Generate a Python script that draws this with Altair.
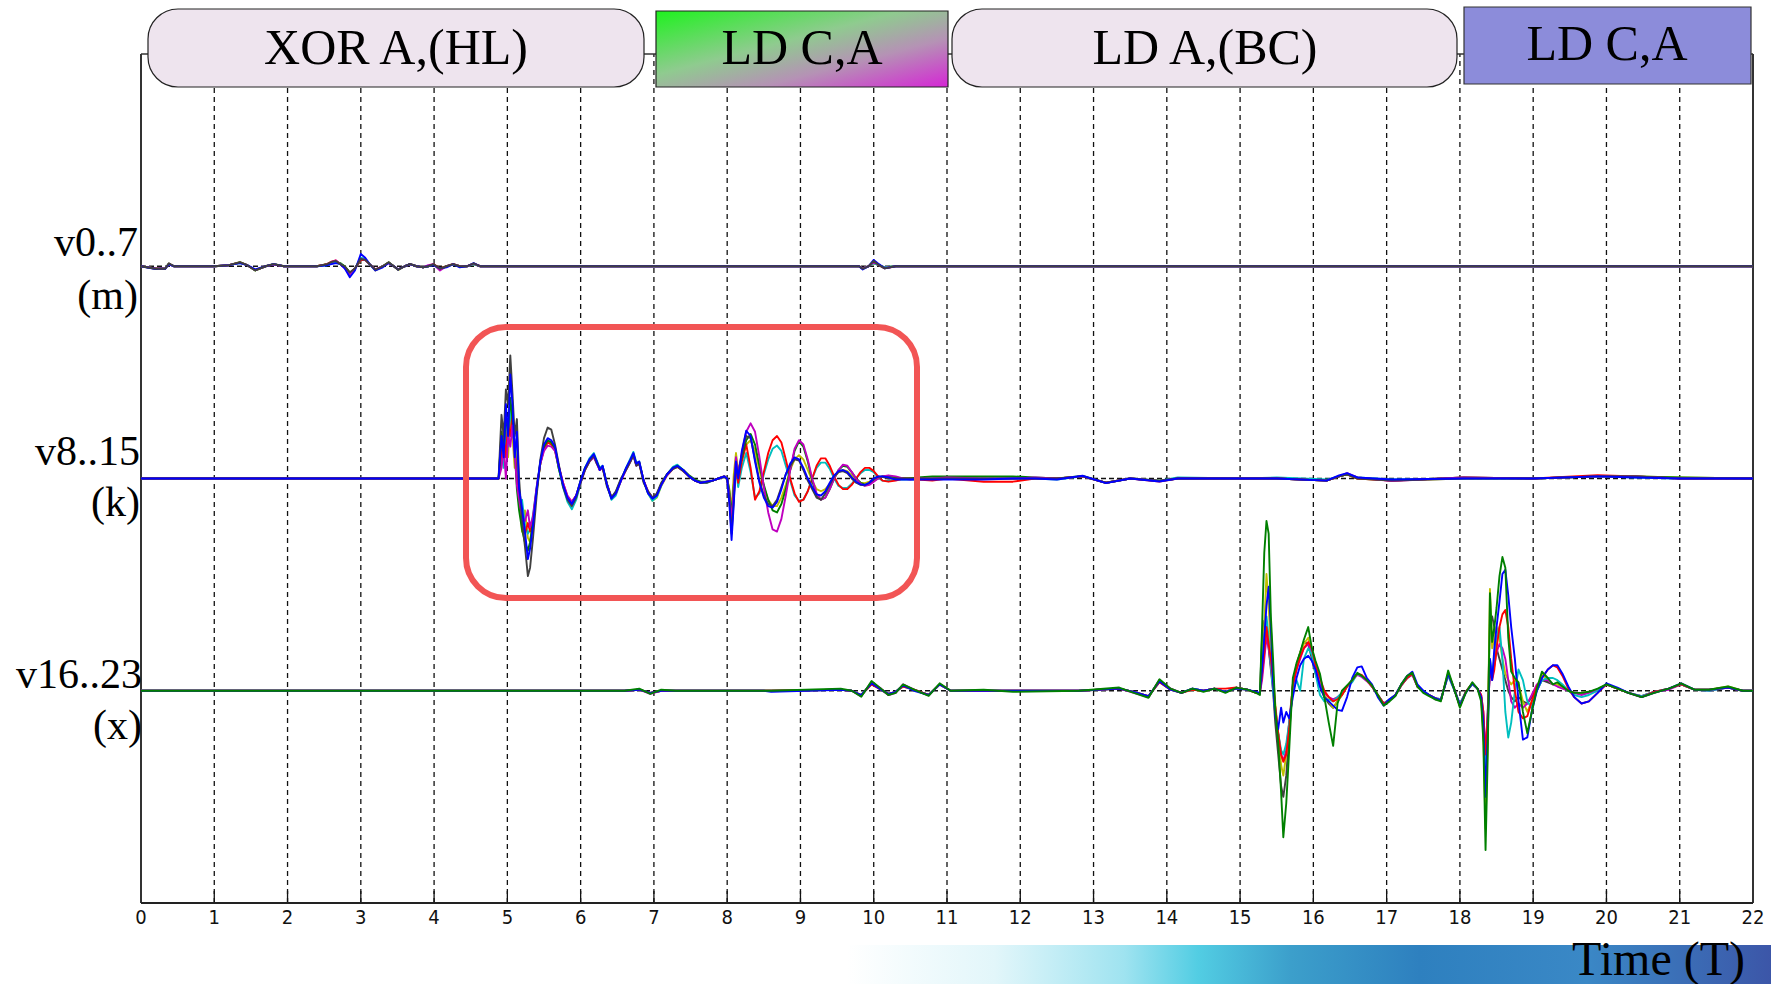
import altair as alt
import pandas as pd

# ---------------- data: k group (v8..15), baseline 10 ----------------
K_T = [0.0, 4.88, 4.92, 4.95, 4.98, 5.01, 5.04, 5.07, 5.10, 5.13,
       5.16, 5.20, 5.24, 5.28, 5.31, 5.35, 5.40, 5.45, 5.50, 5.55,
       5.60, 5.65, 5.70, 5.76, 5.82, 5.88, 5.94, 6.00, 6.06, 6.12,
       6.18, 6.22, 6.26, 6.30, 6.36, 6.42, 6.48, 6.55, 6.62, 6.68,
       6.72, 6.76, 6.80, 6.86, 6.92, 6.98, 7.04, 7.10, 7.18, 7.26,
       7.32, 7.40, 7.48, 7.56, 7.64, 7.72, 7.80, 7.88, 7.96, 8.00,
       8.03, 8.06, 8.09, 8.12, 8.15, 8.2, 8.26, 8.32, 8.38, 8.44,
       8.5, 8.56, 8.62, 8.68, 8.74, 8.8, 8.86, 8.92, 8.98, 9.04,
       9.1, 9.16, 9.22, 9.28, 9.34, 9.4, 9.46, 9.52, 9.58, 9.64,
       9.7, 9.76, 9.82, 9.88, 9.94, 10.0, 10.06, 10.12, 10.2, 10.3,
       10.4, 10.5, 10.6, 10.8, 11.0, 11.5, 11.9, 12.2, 12.5, 12.85,
       13.17, 13.5, 13.9, 14.15, 15.0, 15.5, 16.18, 16.35, 16.46, 16.6,
       17.07, 18.05, 19.0, 19.88, 20.4, 21.0, 22.0]

K_BLUE = [0, 0, 2.0, 1.0, 3.5, 2.0, 4.9, 3.5, 1.0, 2.2,
          -0.5, -1.4, -2.5, -3.8, -3.3, -2.2, -0.5, 0.8, 1.6, 1.9,
          1.8, 1.5, 0.6, -0.3, -0.9, -1.2, -0.8, -0.1, 0.5, 0.9,
          1.15, 0.8, 0.4, 0.6, -0.3, -0.95, -0.7, -0.1, 0.5, 0.9,
          1.2, 0.7, 0.8, -0.1, -0.7, -0.95, -0.8, -0.3, 0.2, 0.5,
          0.6, 0.4, 0.1, -0.1, -0.2, -0.15, -0.1, 0.0, 0.1, 0.0,
          -1.2, -2.9, -1.2, 0.8, 0.0, 1.3, 2.25, 2.0, 0.8, -0.2,
          -0.9, -1.3, -1.37, -1.1, -0.5, 0.2, 0.7, 1.0, 0.9, 0.5,
          0.0, -0.4, -0.75, -0.8, -0.6, -0.2, 0.15, 0.35, 0.4, 0.3,
          0.05, -0.15, -0.28, -0.3, -0.2, 0.0, 0.1, 0.1, 0.05, -0.05,
          -0.05, -0.05, -0.05, -0.05, -0.05, -0.05, 0.0, 0.0, -0.05, 0.13,
          -0.22, 0.0, -0.14, 0.0, 0.0, 0.0, -0.1, 0.15, 0.25, 0.05,
          -0.05, 0.0, 0.0, 0.1, 0.05, 0.0, 0.0]

K_GRAY = [0, 0, 3.0, 2.0, 4.2, 3.5, 5.8, 4.0, 2.0, 2.8,
          0.0, -2.0, -3.2, -4.6, -4.2, -2.8, -0.8, 0.9, 1.9, 2.4,
          2.3, 1.6, 0.7, -0.4, -1.0, -1.3, -0.9, -0.2, 0.4, 0.8,
          1.1, 0.7, 0.5, 0.5, -0.4, -0.9, -0.6, 0.0, 0.4, 0.8,
          1.1, 0.6, 0.7, -0.2, -0.6, -0.9, -0.7, -0.2, 0.2, 0.45,
          0.55, 0.35, 0.1, -0.1, -0.2, -0.2, -0.1, 0.0, 0.05, 0.0,
          -1.0, -2.6, -1.0, 0.6, 0.1, 1.1, 2.0, 1.9, 0.9, -0.1,
          -0.8, -1.2, -1.3, -1.0, -0.4, 0.2, 0.6, 0.9, 0.85, 0.4,
          -0.1, -0.5, -0.9, -1.0, -0.7, -0.3, 0.1, 0.3, 0.35, 0.25,
          0.0, -0.2, -0.3, -0.32, -0.2, 0.0, 0.08, 0.08, 0.0, 0.0,
          0.0, 0.0, 0.0, 0.0, 0.0, 0.0, 0.0, 0.0, 0.0, 0.1,
          -0.2, 0.0, -0.1, 0.0, 0.0, 0.0, -0.1, 0.1, 0.2, 0.0,
          -0.1, 0.0, 0.0, 0.1, 0.1, 0.0, 0.0]

K_MAGENTA = [0, 0, 0.5, 1.5, 0.0, 2.0, 1.5, 2.5, 1.2, -0.3,
             -1.0, -1.8, -2.0, -1.5, -2.3, -1.8, -0.4, 0.7, 1.3, 1.55,
             1.5, 1.3, 0.6, -0.2, -0.8, -1.1, -0.8, -0.2, 0.4, 0.8,
             1.0, 0.7, 0.4, 0.5, -0.3, -0.9, -0.7, -0.1, 0.4, 0.8,
             1.1, 0.6, 0.7, -0.1, -0.6, -0.9, -0.75, -0.3, 0.15, 0.45,
             0.55, 0.35, 0.1, -0.1, -0.2, -0.15, -0.1, 0.0, 0.1, 0.0,
             -0.8, -2.0, -0.5, 1.0, 0.2, 1.2, 2.2, 2.6, 2.2, 1.0,
             -0.4, -1.6, -2.4, -2.5, -1.9, -0.8, 0.4, 1.4, 1.8, 1.6,
             0.9, 0.0, -0.7, -1.0, -0.9, -0.5, 0.0, 0.4, 0.65, 0.6,
             0.3, 0.0, -0.25, -0.35, -0.3, -0.15, 0.0, 0.1, 0.15, 0.1,
             0.0, -0.05, 0.0, 0.0, 0.05, 0.0, 0.0, 0.05, 0.0, 0.1,
             -0.2, 0.0, -0.12, 0.0, 0.0, 0.0, -0.1, 0.1, 0.25, 0.05,
             -0.12, 0.05, 0.0, 0.1, 0.1, 0.0, 0.0]

K_GREEN = [0, 0, 2.2, 1.2, 3.0, 2.2, 3.8, 2.8, 1.4, -0.5,
           -1.5, -2.4, -3.0, -3.4, -3.0, -2.0, -0.6, 0.7, 1.5, 1.8,
           1.7, 1.4, 0.5, -0.3, -0.9, -1.15, -0.8, -0.1, 0.5, 0.85,
           1.1, 0.8, 0.45, 0.55, -0.25, -0.9, -0.65, -0.05, 0.45, 0.85,
           1.15, 0.65, 0.75, -0.1, -0.65, -0.9, -0.75, -0.25, 0.2, 0.5,
           0.6, 0.4, 0.15, -0.05, -0.15, -0.15, -0.1, 0.0, 0.1, 0.0,
           -0.6, -1.8, -0.3, 0.8, 0.3, 1.0, 1.8, 2.1, 1.6, 0.6,
           -0.3, -1.0, -1.5, -1.6, -1.2, -0.5, 0.4, 1.3, 1.75, 1.5,
           0.8, -0.1, -0.8, -1.0, -0.9, -0.5, 0.0, 0.4, 0.6, 0.55,
           0.3, 0.0, -0.2, -0.3, -0.25, -0.1, 0.0, 0.1, 0.12, 0.05,
           0.0, 0.0, 0.05, 0.1, 0.1, 0.1, 0.1, 0.05, 0.0, 0.12,
           -0.2, 0.0, -0.12, 0.0, 0.0, 0.0, -0.1, 0.1, 0.2, 0.05,
           -0.1, 0.05, 0.0, 0.1, 0.1, 0.05, 0.0]

K_RED = [0, 0, 1.2, 2.0, 1.0, 2.6, 2.0, 3.0, 1.5, 0.0,
         -1.0, -2.2, -2.6, -2.1, -2.5, -1.9, -0.5, 0.7, 1.4, 1.7,
         1.6, 1.4, 0.6, -0.2, -0.85, -1.1, -0.8, -0.15, 0.45, 0.85,
         1.1, 0.75, 0.4, 0.55, -0.3, -0.9, -0.7, -0.1, 0.45, 0.85,
         1.15, 0.65, 0.75, -0.1, -0.65, -0.9, -0.75, -0.3, 0.2, 0.5,
         0.55, 0.4, 0.1, -0.1, -0.2, -0.15, -0.1, 0.0, 0.1, 0.0,
         -1.0, -2.4, -0.8, 0.5, -0.2, 0.8, 1.6, 0.5, -1.0, -0.6,
         0.3, 1.2, 1.8, 2.0, 1.7, 0.9, 0.0, -0.7, -1.1, -1.0,
         -0.6, 0.0, 0.6, 0.95, 0.95, 0.6, 0.1, -0.3, -0.5, -0.5,
         -0.3, 0.0, 0.3, 0.5, 0.5, 0.35, 0.1, -0.1, -0.15, -0.1,
         0.0, 0.0, -0.05, -0.1, 0.0, -0.15, -0.15, 0.0, 0.0, 0.1,
         -0.2, 0.0, -0.14, 0.0, 0.0, 0.0, -0.1, 0.1, 0.2, 0.0,
         -0.1, 0.05, 0.0, 0.15, 0.1, 0.0, 0.0]

K_CYAN = [0, 0, 1.5, 0.5, 2.5, 1.5, 3.5, 2.0, 1.8, 0.2,
          -1.2, -1.0, -2.2, -2.6, -2.4, -1.7, -0.4, 0.8, 1.5, 1.75,
          1.7, 1.4, 0.5, -0.4, -1.1, -1.45, -1.0, -0.2, 0.5, 0.95,
          1.2, 0.85, 0.5, 0.6, -0.3, -1.0, -0.8, -0.1, 0.5, 0.95,
          1.25, 0.75, 0.8, -0.1, -0.7, -1.05, -0.85, -0.35, 0.2, 0.55,
          0.65, 0.4, 0.1, -0.1, -0.2, -0.2, -0.1, 0.0, 0.1, 0.0,
          -0.8, -1.6, -0.6, 0.4, -0.4, 0.5, 1.2, 0.3, -0.9, -0.7,
          0.2, 0.9, 1.4, 1.55, 1.3, 0.6, -0.1, -0.8, -1.05, -1.0,
          -0.6, 0.0, 0.5, 0.75, 0.75, 0.45, 0.0, -0.35, -0.45, -0.45,
          -0.25, 0.0, 0.25, 0.4, 0.4, 0.3, 0.05, -0.1, -0.12, -0.05,
          -0.05, -0.05, -0.05, 0.0, 0.0, 0.0, 0.0, 0.0, -0.05, 0.1,
          -0.2, 0.0, -0.1, 0.05, 0.0, 0.05, -0.05, 0.1, 0.2, 0.05,
          -0.05, 0.0, 0.0, 0.1, 0.05, 0.0, 0.0]

K_OLIVE = [0, 0, 1.0, 2.5, 1.2, 1.0, 3.0, 2.0, 0.5, 1.5,
           -0.8, -2.5, -1.5, -2.8, -3.0, -2.0, -0.5, 0.7, 1.4, 1.7,
           1.6, 1.3, 0.5, -0.3, -0.9, -1.2, -0.85, -0.15, 0.45, 0.8,
           1.05, 0.75, 0.4, 0.5, -0.3, -0.9, -0.7, -0.1, 0.45, 0.85,
           1.1, 0.65, 0.7, -0.15, -0.7, -1.05, -0.9, -0.35, 0.15, 0.45,
           0.55, 0.35, 0.1, -0.1, -0.2, -0.15, -0.1, 0.0, 0.1, 0.0,
           -0.5, -1.5, 0.2, 1.2, 0.4, 1.0, 1.6, 1.8, 1.3, 0.4,
           -0.4, -1.0, -1.3, -1.3, -0.9, -0.3, 0.4, 0.9, 1.1, 0.9,
           0.4, -0.1, -0.5, -0.6, -0.5, -0.25, 0.05, 0.3, 0.4, 0.35,
           0.15, -0.05, -0.2, -0.22, -0.15, -0.05, 0.05, 0.08, 0.05, 0.0,
           0.0, 0.0, 0.0, 0.0, 0.0, 0.0, 0.0, 0.0, 0.0, 0.1,
           -0.2, 0.0, -0.1, 0.0, 0.0, 0.0, -0.1, 0.1, 0.2, 0.0,
           -0.1, 0.0, 0.0, 0.1, 0.1, 0.05, 0.0]

# ---------------- data: x group (v16..23), baseline 0 ----------------
X_T = [0.0, 6.6, 6.8, 6.95, 7.1, 7.3, 8.5, 8.6, 9.55, 9.7,
       9.83, 9.97, 10.1, 10.2, 10.3, 10.4, 10.55, 10.75, 10.9, 11.05,
       11.5, 11.9, 12.8, 13.35, 13.55, 13.75, 13.9, 14.05, 14.2, 14.35,
       14.5, 14.65, 14.8, 14.95, 15.1, 15.22, 15.27, 15.30, 15.33, 15.36,
       15.39, 15.42, 15.45, 15.48, 15.52, 15.56, 15.59, 15.63, 15.67, 15.72,
       15.77, 15.82, 15.87, 15.93, 15.98, 16.03, 16.09, 16.15, 16.21, 16.27,
       16.33, 16.39, 16.46, 16.53, 16.6, 16.66, 16.73, 16.8, 16.88, 16.96,
       17.04, 17.12, 17.2, 17.28, 17.35, 17.42, 17.5, 17.58, 17.66, 17.74,
       17.84, 17.92, 18.0, 18.08, 18.17, 18.24, 18.29, 18.32, 18.35, 18.38,
       18.41, 18.44, 18.47, 18.5, 18.54, 18.58, 18.62, 18.66, 18.7, 18.75,
       18.8, 18.86, 18.92, 18.98, 19.05, 19.12, 19.2, 19.27, 19.33, 19.4,
       19.48, 19.56, 19.66, 19.76, 19.88, 20.0, 20.15, 20.3, 20.48, 20.65,
       20.85, 21.02, 21.2, 21.4, 21.66, 21.86, 22.0]

X_GREEN = [0, 0, 0.1, -0.15, 0.05, 0, 0, 0, 0.1, 0.0,
           -0.28, 0.46, 0.1, -0.2, -0.1, 0.3, 0.05, -0.24, 0.35, 0.0,
           0.05, -0.05, 0.0, 0.15, -0.1, -0.33, 0.54, 0.1, -0.1, 0.1,
           -0.05, 0.1, -0.1, 0.15, 0.05, -0.1, -0.2, 3.0, 6.5, 8.0,
           7.4, 3.5, 1.5, -0.9, -2.4, -4.8, -6.9, -5.3, -2.8, 0.6,
           1.3, 1.8, 2.4, 3.0, 2.0, 1.4, 0.8, -0.3, -1.5, -2.6,
           -0.6, 0.0, 0.25, 0.5, 0.85, 0.7, 0.5, 0.25, -0.2, -0.7,
           -0.5, -0.25, 0.3, 0.7, 0.85, 0.2, -0.1, -0.25, -0.4, -0.5,
           0.95, 0.1, -0.8, -0.1, 0.4, 0.1, -0.5, -2.4, -7.5, -3.0,
           4.6, 2.3, 3.0, 3.9, 5.4, 6.3, 5.8, 2.5, 0.9, 0.6,
           0.4, -1.0, -2.0, -1.0, 0.1, 0.9, 0.6, 0.3, 0.4, 0.2,
           0.0, -0.1, -0.1, -0.05, 0.1, 0.3, 0.1, -0.1, -0.3, -0.1,
           0.1, 0.35, 0.05, 0.05, 0.2, 0.0, 0.0]

X_BLUE = [0, 0, 0.05, -0.1, 0.0, 0, 0, -0.05, 0.05, 0.0,
          -0.2, 0.35, 0.05, -0.15, -0.05, 0.25, 0.0, -0.2, 0.3, 0.0,
          0.0, 0.0, 0.0, 0.1, -0.05, -0.25, 0.45, 0.05, -0.1, 0.1,
          0.0, 0.1, -0.05, 0.1, 0.05, -0.05, -0.1, 1.0, 2.5, 4.0,
          4.9, 3.0, 0.5, -1.2, -1.8, -0.8, -1.5, -1.0, -1.3, -0.3,
          0.6, 1.2, 1.5, 1.65, 1.4, 1.0, 0.2, -0.3, -0.5, -0.7,
          -0.9, -0.95, -0.3, 0.6, 1.1, 1.15, 0.6, 0.3, -0.3, -0.7,
          -0.4, -0.2, 0.3, 0.7, 0.9, 0.3, 0.0, -0.2, -0.35, -0.45,
          0.8, 0.1, -0.7, -0.1, 0.35, 0.1, -0.3, -1.5, -5.0, -2.0,
          1.5, 0.5, 2.0, 3.0, 4.2, 5.5, 5.7, 4.5, 3.0, 1.5,
          -0.5, -2.3, -2.2, -1.0, 0.0, 0.6, 1.0, 1.2, 1.2, 0.8,
          0.2, -0.3, -0.6, -0.5, -0.1, 0.35, 0.15, -0.1, -0.3, -0.1,
          0.1, 0.35, 0.05, 0.05, 0.15, 0.0, 0.0]

X_RED = [0, 0, 0.05, -0.1, 0.0, 0, 0, 0, 0.05, 0.0,
         -0.2, 0.3, 0.05, -0.15, -0.05, 0.2, 0.05, -0.2, 0.3, 0.0,
         0.0, 0.0, 0.0, 0.1, -0.05, -0.25, 0.4, 0.05, -0.1, 0.05,
         0.0, 0.1, 0.1, 0.15, 0.05, -0.1, -0.1, 0.8, 1.8, 3.0,
         2.2, 1.5, 0.5, -0.8, -2.0, -3.0, -3.35, -3.0, -1.8, 0.3,
         1.0, 1.6, 2.0, 2.3, 2.0, 1.2, 0.6, 0.0, -0.3, -0.5,
         -0.4, -0.2, 0.2, 0.5, 0.8, 0.75, 0.5, 0.2, -0.2, -0.6,
         -0.45, -0.2, 0.25, 0.6, 0.8, 0.2, -0.05, -0.2, -0.35, -0.45,
         0.8, 0.1, -0.7, -0.05, 0.35, 0.1, -0.2, -1.0, -3.0, -1.2,
         1.0, 0.5, 1.0, 2.0, 3.0, 3.6, 3.8, 3.0, 1.5, 0.0,
         -1.0, -1.3, -1.2, -0.5, 0.2, 0.6, 1.0, 1.2, 1.1, 0.7,
         0.1, -0.3, -0.6, -0.5, -0.1, 0.3, 0.1, -0.1, -0.3, -0.05,
         0.1, 0.3, 0.05, 0.05, 0.15, 0.0, 0.0]

X_CYAN = [0, 0, 0.05, -0.1, 0.0, 0, 0, 0, 0.05, 0.0,
          -0.2, 0.3, 0.05, -0.15, -0.05, 0.2, 0.05, -0.2, 0.3, 0.0,
          0.0, 0.0, 0.0, 0.1, -0.05, -0.25, 0.4, 0.05, -0.1, 0.1,
          0.0, 0.1, -0.05, 0.15, 0.05, -0.1, -0.1, 1.0, 2.5, 3.5,
          2.5, 1.2, 0.0, -1.0, -2.0, -2.8, -3.0, -2.5, -1.5, 0.0,
          0.5, 0.0, 1.5, 2.0, 1.7, 0.8, -0.2, -0.5, -0.4, -0.5,
          -0.3, -0.1, 0.2, 0.4, 0.8, 0.7, 0.5, 0.2, -0.2, -0.6,
          -0.4, -0.2, 0.25, 0.6, 0.8, 0.2, 0.0, -0.2, -0.35, -0.4,
          0.7, 0.05, -0.6, -0.05, 0.3, 0.1, -0.3, -1.2, -3.5, -1.5,
          1.5, 0.8, 1.5, 2.5, 3.0, 1.5, -1.0, -2.2, -1.5, 0.0,
          1.0, 0.5, -0.5, -0.8, 0.0, 0.5, 0.6, 0.6, 0.5, 0.3,
          0.0, -0.2, -0.3, -0.2, 0.0, 0.3, 0.1, -0.1, -0.25, -0.05,
          0.1, 0.3, 0.05, 0.0, 0.15, 0.0, 0.0]

X_MAGENTA = [0, 0, 0.05, -0.15, 0.0, 0, 0, 0, 0.05, 0.0,
             -0.25, 0.4, 0.1, -0.2, -0.1, 0.3, 0.05, -0.22, 0.3, 0.0,
             0.0, 0.0, 0.0, 0.1, -0.1, -0.3, 0.5, 0.1, -0.1, 0.1,
             0.0, 0.1, -0.05, 0.15, 0.05, -0.1, -0.1, 0.5, 1.5, 2.5,
             2.0, 1.2, 0.3, -0.8, -2.0, -3.0, -3.3, -2.8, -1.5, 0.2,
             1.0, 1.5, 2.0, 2.2, 1.8, 1.0, 0.3, -0.1, -0.3, -0.4,
             -0.3, -0.1, 0.2, 0.5, 0.75, 0.65, 0.45, 0.2, -0.2, -0.6,
             -0.4, -0.2, 0.25, 0.6, 0.75, 0.2, -0.05, -0.2, -0.35, -0.4,
             0.75, 0.1, -0.7, -0.05, 0.3, 0.1, -0.2, -1.0, -3.0, -1.0,
             1.0, 0.6, 1.2, 1.8, 2.2, 2.0, 1.5, 0.5, -0.5, -0.8,
             -0.6, -0.8, -0.6, -0.2, 0.3, 0.5, 0.5, 0.3, 0.2, 0.1,
             0.0, -0.1, -0.2, -0.1, 0.0, 0.3, 0.1, -0.1, -0.25, -0.05,
             0.05, 0.3, 0.05, 0.0, 0.15, 0.0, 0.0]

X_OLIVE = [0, 0, 0.05, -0.1, 0.0, 0, 0, 0, 0.05, 0.0,
           -0.2, 0.35, 0.05, -0.15, -0.05, 0.25, 0.05, -0.2, 0.3, 0.0,
           0.0, 0.0, 0.0, 0.1, -0.05, -0.25, 0.45, 0.05, -0.1, 0.05,
           0.0, 0.1, -0.05, 0.1, 0.05, -0.1, -0.1, 1.5, 3.0, 5.5,
           4.0, 2.0, 0.8, -0.6, -2.0, -3.5, -4.0, -3.0, -1.5, 0.3,
           1.2, 1.8, 2.2, 2.5, 1.8, 1.0, 0.3, -0.2, -0.5, -0.8,
           -0.5, -0.2, 0.2, 0.5, 0.8, 0.7, 0.5, 0.2, -0.2, -0.65,
           -0.45, -0.2, 0.3, 0.65, 0.85, 0.2, -0.05, -0.2, -0.35, -0.45,
           0.85, 0.1, -0.75, -0.05, 0.35, 0.1, -0.4, -2.0, -6.5, -2.0,
           4.8, 2.0, 2.5, 3.0, 2.5, 1.5, 0.8, 0.5, 0.3, 0.5,
           0.3, -0.5, -1.0, -0.5, 0.0, 0.8, 0.5, 0.3, 0.3, 0.2,
           0.0, -0.1, -0.1, -0.05, 0.05, 0.3, 0.1, -0.1, -0.3, -0.1,
           0.1, 0.3, 0.05, 0.05, 0.2, 0.0, 0.0]

X_GRAY = [0, 0, 0.05, -0.1, 0.0, 0, 0, 0, 0.05, 0.0,
          -0.25, 0.4, 0.05, -0.2, -0.05, 0.25, 0.05, -0.2, 0.3, 0.0,
          0.0, 0.0, 0.0, 0.1, -0.05, -0.3, 0.5, 0.1, -0.1, 0.1,
          0.0, 0.1, -0.05, 0.15, 0.05, -0.1, -0.15, 2.5, 3.3, 3.0,
          2.0, 1.0, 0.0, -1.5, -3.0, -4.5, -5.0, -4.0, -2.0, 0.2,
          1.2, 1.8, 2.3, 2.2, 1.5, 0.8, 0.2, -0.3, -0.6, -0.8,
          -0.5, -0.2, 0.2, 0.5, 0.8, 0.7, 0.5, 0.2, -0.2, -0.6,
          -0.45, -0.2, 0.3, 0.6, 0.8, 0.2, -0.05, -0.2, -0.4, -0.45,
          0.8, 0.1, -0.7, -0.05, 0.35, 0.1, -0.3, -1.8, -4.8, -1.0,
          3.2, 3.5, 3.0, 2.0, 1.5, 1.0, 0.5, 0.0, -0.3, -0.5,
          -0.3, -0.5, -0.6, -0.3, 0.0, 0.5, 0.4, 0.3, 0.3, 0.2,
          0.0, -0.1, -0.15, -0.05, 0.05, 0.3, 0.1, -0.1, -0.25, -0.05,
          0.1, 0.3, 0.05, 0.05, 0.15, 0.0, 0.0]

# ---------------- data: m group (v0..7), baseline 20 ----------------
M_T = [0.0, 0.2, 0.27, 0.33, 0.38, 0.45, 1.0, 1.2, 1.35, 1.45,
       1.56, 1.7, 1.81, 1.95, 2.2, 2.4, 2.54, 2.6, 2.66, 2.72,
       2.78, 2.85, 2.92, 3.0, 3.06, 3.12, 3.2, 3.3, 3.38, 3.45,
       3.51, 3.6, 3.67, 3.76, 3.85, 3.92, 3.99, 4.08, 4.17, 4.26,
       4.35, 4.45, 4.54, 4.63, 4.72, 5.0, 6.0, 7.0, 8.0, 9.5,
       9.8, 9.85, 9.93, 10.0, 10.07, 10.15, 10.3, 11.0, 15.0, 22.0]

M_BLUE = [0, -0.13, -0.1, -0.13, 0.1, 0.0, 0.0, 0.05, 0.15, 0.05,
          -0.15, 0.0, 0.1, 0.0, 0.0, 0.0, 0.05, 0.1, 0.15, 0.1,
          -0.1, -0.52, -0.2, 0.58, 0.4, 0.1, -0.2, -0.05, 0.15, 0.0,
          -0.15, 0.0, 0.1, 0.0, -0.05, 0.0, 0.05, -0.1, -0.05, 0.1,
          -0.05, 0.0, 0.15, 0.0, 0.0, 0.0, 0.0, 0.0, 0.0, 0.0,
          0.0, -0.15, 0.0, 0.3, 0.1, -0.1, 0.0, 0.0, 0.0, 0.0]

M_GREEN = [0, -0.1, -0.13, -0.1, 0.12, 0.0, 0.0, 0.05, 0.18, 0.05,
           -0.2, 0.0, 0.1, 0.0, 0.0, 0.0, 0.1, 0.2, 0.2, 0.15,
           0.0, -0.3, -0.1, 0.3, 0.3, 0.1, -0.15, 0.0, 0.18, 0.0,
           -0.15, 0.0, 0.1, 0.0, -0.05, 0.0, 0.08, -0.1, 0.0, 0.1,
           0.0, 0.0, 0.1, 0.0, 0.0, 0.0, 0.0, 0.0, 0.0, 0.0,
           0.0, -0.1, 0.0, 0.15, 0.05, -0.05, 0.0, 0.0, 0.0, 0.0]

M_RED = [0, -0.12, -0.1, -0.12, 0.12, 0.0, 0.0, 0.05, 0.17, 0.05,
         -0.18, 0.0, 0.1, 0.0, 0.0, 0.0, 0.1, 0.22, 0.27, 0.1,
         -0.05, -0.3, -0.1, 0.3, 0.3, 0.1, -0.15, 0.0, 0.17, 0.0,
         -0.15, 0.0, 0.1, 0.0, -0.05, 0.0, 0.1, -0.1, 0.0, 0.1,
         0.0, 0.0, 0.12, 0.0, 0.0, 0.0, 0.0, 0.0, 0.0, 0.0,
         0.0, -0.1, 0.0, 0.2, 0.05, -0.1, 0.0, 0.0, 0.0, 0.0]

M_CYAN = [0, -0.12, -0.13, -0.1, 0.1, 0.0, 0.0, 0.05, 0.15, 0.05,
          -0.18, 0.0, 0.1, 0.0, 0.0, 0.0, 0.05, 0.15, 0.2, 0.1,
          -0.05, -0.35, -0.1, 0.4, 0.35, 0.1, -0.18, 0.0, 0.18, 0.0,
          -0.16, 0.0, 0.1, 0.0, -0.05, 0.0, 0.08, -0.15, 0.0, 0.08,
          0.0, 0.0, 0.1, 0.0, 0.0, 0.0, 0.0, 0.0, 0.0, 0.0,
          0.0, -0.1, 0.0, 0.15, 0.05, -0.05, 0.0, 0.0, 0.0, 0.0]

M_MAGENTA = [0, -0.1, -0.12, -0.1, 0.1, 0.0, 0.0, 0.05, 0.17, 0.05,
             -0.18, 0.0, 0.08, 0.0, 0.0, 0.0, 0.08, 0.2, 0.27, 0.1,
             -0.1, -0.4, -0.1, 0.35, 0.3, 0.1, -0.15, 0.0, 0.15, 0.0,
             -0.15, 0.0, 0.1, 0.0, -0.05, 0.05, 0.1, -0.2, 0.0, 0.1,
             0.0, 0.0, 0.12, 0.0, 0.0, 0.0, 0.0, 0.0, 0.0, 0.0,
             0.0, -0.1, 0.0, 0.2, 0.05, -0.08, 0.0, 0.0, 0.0, 0.0]

M_OLIVE = [0, -0.1, -0.1, -0.1, 0.1, 0.0, 0.0, 0.05, 0.19, 0.05,
           -0.2, 0.0, 0.1, 0.0, 0.0, 0.0, 0.1, 0.15, 0.2, 0.1,
           0.0, -0.3, -0.1, 0.3, 0.3, 0.1, -0.2, 0.0, 0.19, 0.0,
           -0.18, 0.0, 0.1, 0.0, -0.05, 0.0, 0.08, -0.12, 0.0, 0.1,
           0.0, 0.0, 0.1, 0.0, 0.0, 0.0, 0.0, 0.0, 0.0, 0.0,
           0.0, -0.1, 0.0, 0.15, 0.05, -0.05, 0.0, 0.0, 0.0, 0.0]

M_GRAY = [0, -0.12, -0.12, -0.12, 0.14, 0.0, 0.0, 0.05, 0.19, 0.05,
          -0.2, 0.0, 0.1, 0.0, 0.0, 0.0, 0.1, 0.2, 0.25, 0.1,
          0.0, -0.3, -0.1, 0.35, 0.3, 0.1, -0.16, 0.0, 0.19, 0.0,
          -0.16, 0.0, 0.11, 0.0, -0.05, 0.0, 0.1, -0.12, 0.0, 0.1,
          0.0, 0.0, 0.14, 0.0, 0.0, 0.0, 0.0, 0.0, 0.0, 0.0,
          0.0, -0.12, 0.0, 0.25, 0.05, -0.1, 0.0, 0.0, 0.0, 0.0]

# ---------------- labels / axes ----------------
TICK_VALUES = list(range(0, 23))
GRID_VALUES = list(range(1, 22))
BASELINES = [0, 10, 20]
INSTRUCTIONS = ["XOR A,(HL)", "LD C,A", "LD A,(BC)", "LD C,A"]
GROUP_LABELS = [("v0..7", "(m)"), ("v8..15", "(k)"), ("v16..23", "(x)")]
TIME_TITLE = "Time (T)"

# ---------------- styling ----------------
BLUE, GREEN, RED, CYAN = "#0000FF", "#008000", "#FF0000", "#00BFBF"
MAGENTA, OLIVE, GRAY = "#BF00BF", "#BFBF00", "#404040"
SERIF = "Liberation Serif, Times New Roman, serif"
NARROW = "Liberation Sans Narrow, DejaVu Sans Condensed, Liberation Sans, sans-serif"

W, H = 1612, 849
xscale = alt.Scale(domain=[0, 22], nice=False, zero=False)
yscale = alt.Scale(domain=[-10, 30], nice=False, zero=False)
one = pd.DataFrame({"a": [0]})


def series_layer(ts, vs, base, color):
    assert len(ts) == len(vs), (len(ts), len(vs), color, base)
    df = pd.DataFrame({"t": ts, "y": [base + v for v in vs]})
    return alt.Chart(df).mark_line(color=color, strokeWidth=1.9, strokeJoin="round").encode(
        x=alt.X("t:Q", scale=xscale, axis=None),
        y=alt.Y("y:Q", scale=yscale, axis=None),
    )


layers = []

# slide decoration band at bottom right
layers.append(alt.Chart(one).mark_rect(fill={
    "gradient": "linear", "x1": 0, "y1": 0, "x2": 1, "y2": 0,
    "stops": [
        {"offset": 0.0, "color": "#FFFFFF"},
        {"offset": 0.16, "color": "#E2F6FA"},
        {"offset": 0.30, "color": "#9FE3F0"},
        {"offset": 0.38, "color": "#52CDE3"},
        {"offset": 0.48, "color": "#3C9FCB"},
        {"offset": 0.62, "color": "#2E80BF"},
        {"offset": 0.80, "color": "#3A88C6"},
        {"offset": 1.0, "color": "#3C56A8"},
    ]}).encode(x=alt.value(706), x2=alt.value(1630), y=alt.value(891), y2=alt.value(930)))

# dashed vertical grid lines
layers.append(alt.Chart(pd.DataFrame({"t": GRID_VALUES})).mark_rule(
    color="#111", strokeWidth=1.3, strokeDash=[5, 4]).encode(
    x=alt.X("t:Q", scale=xscale, axis=None),
    y=alt.Y(datum=-10, scale=yscale, axis=None), y2=alt.Y2(datum=30)))

# inward tick marks at the bottom
layers.append(alt.Chart(pd.DataFrame({"t": GRID_VALUES})).mark_rule(
    color="#111", strokeWidth=1.3).encode(
    x=alt.X("t:Q", scale=xscale, axis=None),
    y=alt.Y(datum=-10, scale=yscale, axis=None), y2=alt.Y2(datum=-9.43)))

# tick labels 0..22 under the bottom axis line
layers.append(alt.Chart(pd.DataFrame({"t": TICK_VALUES})).mark_text(
    font=NARROW, fontSize=20, color="#111", align="center", baseline="middle").encode(
    x=alt.X("t:Q", scale=xscale, axis=None),
    y=alt.value(864),
    text=alt.Text("t:Q", format="d")))

# dashed baselines
layers.append(alt.Chart(pd.DataFrame({"b": BASELINES})).mark_rule(
    color="#111", strokeWidth=1.3, strokeDash=[5, 3]).encode(
    y=alt.Y("b:Q", scale=yscale, axis=None),
    x=alt.X(datum=0, scale=xscale, axis=None), x2=alt.X2(datum=22)))

# frame (left/right, top, bottom axis line)
layers.append(alt.Chart(pd.DataFrame({"t": [0, 22]})).mark_rule(
    color="#333", strokeWidth=2).encode(
    x=alt.X("t:Q", scale=xscale, axis=None),
    y=alt.Y(datum=-10, scale=yscale, axis=None), y2=alt.Y2(datum=30)))
layers.append(alt.Chart(one).mark_rule(color="#333", strokeWidth=1.5).encode(
    y=alt.Y(datum=30, scale=yscale, axis=None),
    x=alt.X(datum=0, scale=xscale, axis=None), x2=alt.X2(datum=22)))
layers.append(alt.Chart(one).mark_rule(color="#222", strokeWidth=2.2).encode(
    y=alt.Y(datum=-10, scale=yscale, axis=None),
    x=alt.X(datum=0, scale=xscale, axis=None), x2=alt.X2(datum=22)))

# traces
for vs, c in [(M_OLIVE, OLIVE), (M_GREEN, GREEN), (M_RED, RED), (M_CYAN, CYAN),
              (M_MAGENTA, MAGENTA), (M_BLUE, BLUE), (M_GRAY, GRAY)]:
    layers.append(series_layer(M_T, vs, 20, c))
for vs, c in [(K_OLIVE, OLIVE), (K_CYAN, CYAN), (K_RED, RED), (K_GREEN, GREEN),
              (K_MAGENTA, MAGENTA), (K_GRAY, GRAY), (K_BLUE, BLUE)]:
    layers.append(series_layer(K_T, vs, 10, c))
for vs, c in [(X_GRAY, GRAY), (X_OLIVE, OLIVE), (X_MAGENTA, MAGENTA), (X_CYAN, CYAN),
              (X_RED, RED), (X_BLUE, BLUE), (X_GREEN, GREEN)]:
    layers.append(series_layer(X_T, vs, 0, c))

# red highlight box
layers.append(alt.Chart(one).mark_rect(
    fillOpacity=0, stroke="#F25555", strokeWidth=6, cornerRadius=40).encode(
    x=alt.value(325), x2=alt.value(776), y=alt.value(273), y2=alt.value(544)))

# instruction boxes
pill_fill = "#EEE4EE"
layers.append(alt.Chart(one).mark_rect(
    fill=pill_fill, stroke="#222", strokeWidth=1.2, cornerRadius=30).encode(
    x=alt.value(7), x2=alt.value(503), y=alt.value(-45), y2=alt.value(33)))
layers.append(alt.Chart(one).mark_rect(
    fill={"gradient": "linear", "x1": 0, "y1": 0, "x2": 1, "y2": 1,
          "stops": [{"offset": 0.0, "color": "#1EF21E"},
                    {"offset": 0.42, "color": "#8FCB8F"},
                    {"offset": 0.68, "color": "#B592B5"},
                    {"offset": 1.0, "color": "#D526D5"}]},
    stroke="#222", strokeWidth=1.2).encode(
    x=alt.value(515), x2=alt.value(807), y=alt.value(-43), y2=alt.value(33)))
layers.append(alt.Chart(one).mark_rect(
    fill=pill_fill, stroke="#222", strokeWidth=1.2, cornerRadius=30).encode(
    x=alt.value(811), x2=alt.value(1316), y=alt.value(-45), y2=alt.value(33)))
layers.append(alt.Chart(one).mark_rect(
    fill="#8C8CDA", stroke="#333", strokeWidth=1.2).encode(
    x=alt.value(1323), x2=alt.value(1610), y=alt.value(-47), y2=alt.value(30)))

for txt, xp, yp in [(INSTRUCTIONS[0], 255, -5), (INSTRUCTIONS[1], 661, -5),
                    (INSTRUCTIONS[2], 1064, -5), (INSTRUCTIONS[3], 1466, -9)]:
    layers.append(alt.Chart(one).mark_text(
        text=txt, font=SERIF, fontSize=50, color="#000", align="center",
        baseline="middle").encode(x=alt.value(xp), y=alt.value(yp)))

# group labels
for (l1, l2), xp, y1, y2 in [(GROUP_LABELS[0], -3, 189, 242),
                             (GROUP_LABELS[1], -1, 398, 449),
                             (GROUP_LABELS[2], 1, 621, 672)]:
    layers.append(alt.Chart(one).mark_text(
        text=l1, font=SERIF, fontSize=42, color="#000", align="right",
        baseline="middle").encode(x=alt.value(xp), y=alt.value(y1)))
    layers.append(alt.Chart(one).mark_text(
        text=l2, font=SERIF, fontSize=42, color="#000", align="right",
        baseline="middle").encode(x=alt.value(xp), y=alt.value(y2)))

# axis title
layers.append(alt.Chart(one).mark_text(
    text=TIME_TITLE, font=SERIF, fontSize=48, color="#000", align="right",
    baseline="middle").encode(x=alt.value(1604), y=alt.value(907)))

chart = alt.layer(*layers).properties(
    width=W, height=H,
    padding={"left": 141, "top": 54, "right": 18, "bottom": 81},
    autosize=alt.AutoSizeParams(type="none"),
    background="#FFFFFF",
).configure_view(stroke=None)

chart.save("out.html", embed_options={"renderer": "svg", "actions": False})
